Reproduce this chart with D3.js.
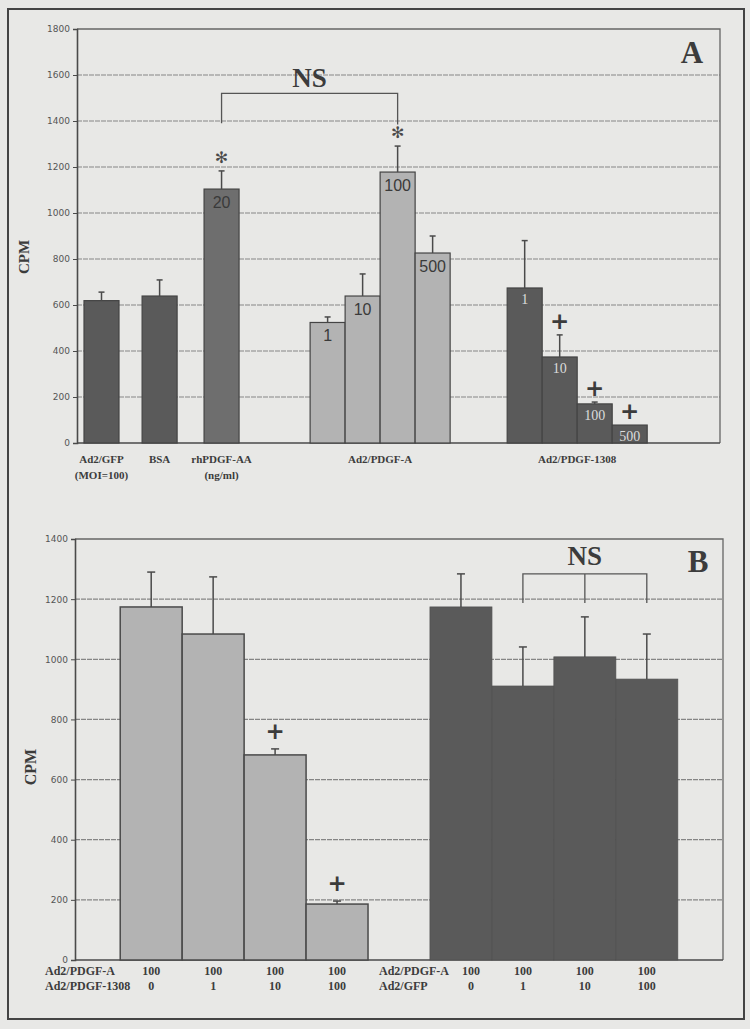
<!DOCTYPE html>
<html lang="en">
  <head>
    <meta charset="UTF-8" />
    <title>CPM - PDGF-A / PDGF-1308</title>
    <script src="https://cdnjs.cloudflare.com/ajax/libs/d3/7.8.5/d3.min.js"></script>
    <style>
      body,
      html {
        margin: 0;
        padding: 0;
        background: #e8e8e6;
      }
      svg {
        display: block;
      }
      .tick text {
        font-family: "DejaVu Sans", sans-serif;
        font-size: 9px;
        fill: #555;
      }
      .serif {
        font-family: "Liberation Serif", "Times New Roman", serif;
        font-weight: bold;
        fill: #3c3c3c;
      }
    </style>
  </head>
  <body>
    <svg width="750" height="1029"></svg>
    <script type="text/javascript">
      // ---- Panel A data ----
      const groupLabelsA = [
        ["Ad2/GFP", "(MOI=100)"],
        ["BSA"],
        ["rhPDGF-AA", "(ng/ml)"],
        ["Ad2/PDGF-A"],
        ["Ad2/PDGF-1308"],
      ];
      const barGroupA = [0, 1, 2, 3, 3, 3, 3, 4, 4, 4, 4];
      const barDoseA = ["", "", "20", "1", "10", "100", "500", "1", "10", "100", "500"];
      const cpmA = [619, 639, 1104, 524, 639, 1178, 826, 674, 374, 170, 78];
      const semA = [37, 70, 79, 24, 96, 113, 74, 206, 96, 8, 0];
      const markA = ["", "", "*", "", "", "*", "", "", "+", "+", "+"];
      const yTicksA = [0, 200, 400, 600, 800, 1000, 1200, 1400, 1600, 1800];

      // ---- Panel B data ----
      const barsB = ["L0", "L1", "L10", "L100", "gap", "G0", "G1", "G10", "G100"];
      const cpmB = [1174, 1084, 682, 186, null, 1174, 911, 1008, 934];
      const semB = [116, 190, 20, 10, null, 110, 130, 133, 150];
      const markB = ["", "", "+", "+", "", "", "", "", ""];
      const pdgfARowB = ["100", "100", "100", "100", "", "100", "100", "100", "100"];
      const secondRowB = ["0", "1", "10", "100", "", "0", "1", "10", "100"];
      const rowTitlesB = [
        ["Ad2/PDGF-A", "Ad2/PDGF-1308"],
        ["Ad2/PDGF-A", "Ad2/GFP"],
      ];
      const yTicksB = [0, 200, 400, 600, 800, 1000, 1200, 1400];

      const svg = d3.select("svg");
      const colors = {
        dark: "#5a5a5a",
        medium: "#6e6e6e",
        light: "#b3b3b3",
        line: "#4a4a4a",
        grid: "#858585",
      };
      const groupFillA = [colors.dark, colors.dark, colors.medium, colors.light, colors.dark];

      // outer frame
      svg
        .append("rect")
        .attr("x", 8)
        .attr("y", 9)
        .attr("width", 736)
        .attr("height", 1010)
        .attr("fill", "none")
        .attr("stroke", "#444")
        .attr("stroke-width", 2);

      function drawFrame(g, x0, x1, y, ticks) {
        // gridlines
        g.append("g")
          .selectAll("line")
          .data(ticks.slice(1, -1))
          .join("line")
          .attr("x1", x0)
          .attr("x2", x1)
          .attr("y1", (d) => y(d))
          .attr("y2", (d) => y(d))
          .attr("stroke", colors.grid)
          .attr("stroke-width", 1.2)
          .attr("stroke-dasharray", "5,1");
        // top + right border of the plot area
        g.append("path")
          .attr("d", `M${x0},${y(ticks[ticks.length - 1])}H${x1}V${y(0)}`)
          .attr("fill", "none")
          .attr("stroke", "#666")
          .attr("stroke-width", 1.3);
        // axis
        const axis = g
          .append("g")
          .attr("transform", `translate(${x0},0)`)
          .call(
            d3
              .axisLeft(y)
              .tickValues(ticks)
              .tickFormat(d3.format("d"))
              .tickSize(4)
              .tickPadding(3)
          );
        axis.select(".domain").attr("stroke", colors.line).attr("stroke-width", 1.6);
        axis.selectAll(".tick line").attr("stroke", colors.line);
        // baseline
        g.append("line")
          .attr("x1", x0)
          .attr("x2", x1)
          .attr("y1", y(0))
          .attr("y2", y(0))
          .attr("stroke", colors.line)
          .attr("stroke-width", 1.6);
      }

      function drawError(g, cx, top, errTop, cap) {
        g.append("line")
          .attr("x1", cx)
          .attr("x2", cx)
          .attr("y1", top)
          .attr("y2", errTop)
          .attr("stroke", colors.line)
          .attr("stroke-width", 1.5);
        g.append("line")
          .attr("x1", cx - cap / 2)
          .attr("x2", cx + cap / 2)
          .attr("y1", errTop)
          .attr("y2", errTop)
          .attr("stroke", colors.line)
          .attr("stroke-width", 1.5);
      }

      function drawMark(g, mark, cx, yy) {
        if (mark === "*") {
          g.append("text")
            .attr("x", cx)
            .attr("y", yy + 6)
            .attr("text-anchor", "middle")
            .attr("font-family", "DejaVu Sans")
            .attr("font-size", 16)
            .attr("fill", "#4a4a4a")
            .text("\u273B");
        } else if (mark === "+") {
          g.append("text")
            .attr("x", cx)
            .attr("y", yy + 8)
            .attr("text-anchor", "middle")
            .attr("font-family", "DejaVu Sans")
            .attr("font-weight", "bold")
            .attr("font-size", 23)
            .attr("fill", "#3c3c3c")
            .text("+");
        }
      }

      // ================= Panel A =================
      const gA = svg.append("g");
      const yA = d3.scaleLinear().domain([0, 1800]).range([443, 29]);
      const xA = d3.scaleLinear().domain([0, 18.37]).range([77, 720]);
      // spacing (in bar widths) before each group
      const gapBeforeA = [0.2, 0.66, 0.77, 2.03, 1.63];
      const barLeftA = [];
      let pos = 0;
      barGroupA.forEach((grp, i) => {
        if (i === 0 || grp !== barGroupA[i - 1]) pos += gapBeforeA[grp];
        barLeftA.push(pos);
        pos += 1;
      });
      const bwA = xA(1) - xA(0);

      drawFrame(gA, 77, 720, yA, yTicksA);

      gA.append("g")
        .selectAll("rect")
        .data(cpmA)
        .join("rect")
        .attr("x", (d, i) => xA(barLeftA[i]))
        .attr("y", (d) => yA(d))
        .attr("width", bwA)
        .attr("height", (d) => yA(0) - yA(d))
        .attr("fill", (d, i) => groupFillA[barGroupA[i]])
        .attr("stroke", "#444")
        .attr("stroke-width", 1.2);

      cpmA.forEach((v, i) => {
        const cx = xA(barLeftA[i] + 0.5);
        const top = yA(v);
        const errTop = yA(v + semA[i]);
        if (semA[i] > 0) drawError(gA, cx, top, errTop, 6);
        if (markA[i]) drawMark(gA, markA[i], cx, errTop - 14);
        // dose label inside bar
        if (barDoseA[i]) {
          const dark = barGroupA[i] === 4;
          gA.append("text")
            .attr("x", cx)
            .attr("y", top + (dark ? 16 : 19))
            .attr("text-anchor", "middle")
            .attr("font-family", dark ? "Liberation Serif" : "Liberation Sans")
            .attr("font-size", dark ? 14 : 16)
            .attr("fill", dark ? "#dcdcdc" : "#3a3a3a")
            .text(barDoseA[i]);
        }
      });

      // group labels A
      groupLabelsA.forEach((lines, grp) => {
        const idx = barGroupA
          .map((g, i) => (g === grp ? i : -1))
          .filter((i) => i >= 0);
        const cx = (xA(barLeftA[idx[0]]) + xA(barLeftA[idx[idx.length - 1]] + 1)) / 2;
        lines.forEach((t, k) => {
          gA.append("text")
            .attr("class", "serif")
            .attr("x", cx)
            .attr("y", 463 + k * 16)
            .attr("text-anchor", "middle")
            .attr("font-size", 11)
            .text(t);
        });
      });

      // NS bracket A (rhPDGF-AA vs Ad2/PDGF-A 100)
      {
        const x1 = xA(barLeftA[2] + 0.5);
        const x2 = xA(barLeftA[5] + 0.5);
        gA.append("path")
          .attr("d", `M${x1},${yA(1390)}V${yA(1520)}H${x2}V${yA(1385)}`)
          .attr("fill", "none")
          .attr("stroke", "#555")
          .attr("stroke-width", 1.3);
        gA.append("text")
          .attr("class", "serif")
          .attr("x", (x1 + x2) / 2)
          .attr("y", 87)
          .attr("text-anchor", "middle")
          .attr("font-size", 27)
          .attr("fill", "#4a4a4a")
          .text("NS");
      }
      gA.append("text")
        .attr("class", "serif")
        .attr("x", 692)
        .attr("y", 63)
        .attr("text-anchor", "middle")
        .attr("font-size", 31)
        .text("A");
      gA.append("text")
        .attr("class", "serif")
        .attr("transform", "translate(29,257) rotate(-90)")
        .attr("text-anchor", "middle")
        .attr("font-size", 15)
        .text("CPM");

      // ================= Panel B =================
      const gB = svg.append("g");
      const yB = d3.scaleLinear().domain([0, 1400]).range([960, 539]);
      const xB = d3
        .scaleBand()
        .domain(barsB)
        .range([75, 723])
        .paddingInner(0)
        .paddingOuter(0.73);

      drawFrame(gB, 75, 723, yB, yTicksB);

      gB.append("g")
        .selectAll("rect")
        .data(barsB.filter((d, i) => cpmB[i] !== null))
        .join("rect")
        .attr("x", (d) => xB(d))
        .attr("y", (d) => yB(cpmB[barsB.indexOf(d)]))
        .attr("width", xB.bandwidth())
        .attr("height", (d) => yB(0) - yB(cpmB[barsB.indexOf(d)]))
        .attr("fill", (d) => (d[0] === "L" ? colors.light : colors.dark))
        .attr("stroke", (d) => (d[0] === "L" ? "#4a4a4a" : "#505050"))
        .attr("stroke-width", (d) => (d[0] === "L" ? 1.5 : 0.8));

      barsB.forEach((key, i) => {
        if (cpmB[i] === null) return;
        const cx = xB(key) + xB.bandwidth() / 2;
        const top = yB(cpmB[i]);
        const errTop = yB(cpmB[i] + semB[i]);
        drawError(gB, cx, top, errTop, 8);
        if (markB[i]) drawMark(gB, markB[i], cx, errTop - 18);
        // first column of the right block is pushed over by its row title
        const lx = key === "G0" ? cx + 10 : cx;
        gB.append("text")
          .attr("class", "serif")
          .attr("x", lx)
          .attr("y", 975)
          .attr("text-anchor", "middle")
          .attr("font-size", 12)
          .text(pdgfARowB[i]);
        gB.append("text")
          .attr("class", "serif")
          .attr("x", lx)
          .attr("y", 990)
          .attr("text-anchor", "middle")
          .attr("font-size", 12)
          .text(secondRowB[i]);
      });

      // row titles under panel B
      [45, 379].forEach((x, k) => {
        rowTitlesB[k].forEach((t, r) => {
          gB.append("text")
            .attr("class", "serif")
            .attr("x", x)
            .attr("y", 975 + r * 15)
            .attr("font-size", 12)
            .text(t);
        });
      });

      // NS bracket B over the Ad2/GFP 1, 10, 100 bars
      {
        const c = (k) => xB(k) + xB.bandwidth() / 2;
        const x1 = c("G1");
        const xm = c("G10");
        const x2 = c("G100");
        gB.append("path")
          .attr(
            "d",
            `M${x1},${yB(1187)}V${yB(1284)}H${x2}V${yB(1187)}M${xm},${yB(1284)}V${yB(1187)}`
          )
          .attr("fill", "none")
          .attr("stroke", "#555")
          .attr("stroke-width", 1.3);
        gB.append("text")
          .attr("class", "serif")
          .attr("x", xm)
          .attr("y", 565)
          .attr("text-anchor", "middle")
          .attr("font-size", 27)
          .attr("fill", "#4a4a4a")
          .text("NS");
      }
      gB.append("text")
        .attr("class", "serif")
        .attr("x", 698)
        .attr("y", 572)
        .attr("text-anchor", "middle")
        .attr("font-size", 31)
        .text("B");
      gB.append("text")
        .attr("class", "serif")
        .attr("transform", "translate(36,767) rotate(-90)")
        .attr("text-anchor", "middle")
        .attr("font-size", 16)
        .text("CPM");
    </script>
  </body>
</html>
